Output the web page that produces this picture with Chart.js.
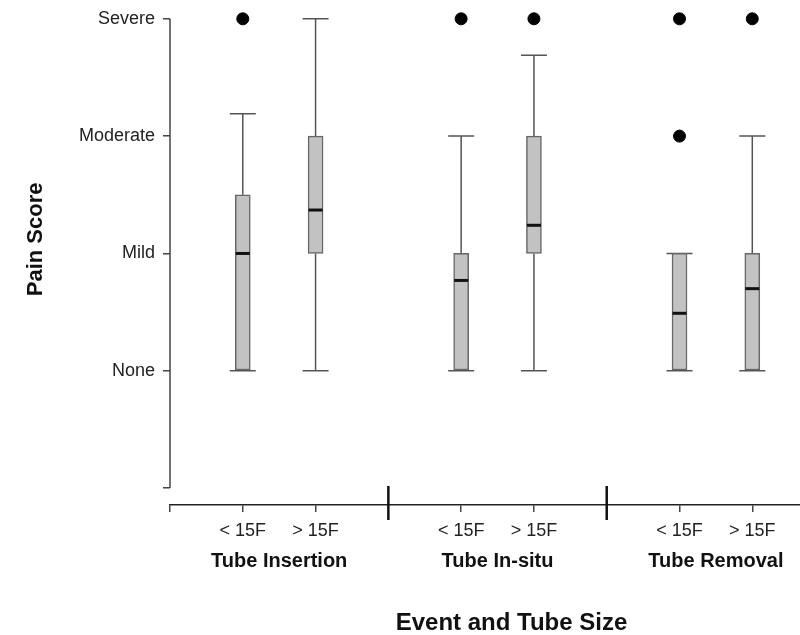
<!DOCTYPE html>
<html lang="en">
<head>
  <meta charset="UTF-8" />
  <title>Pain Score by Event and Tube Size</title>
  <script src="https://cdn.jsdelivr.net/npm/chart.js"></script>
  <style>
    html, body {
      margin: 0;
      padding: 0;
      background: #fff;
      overflow: hidden;
    }
    .wrap {
      width: 860px;
      height: 635px;
    }
  </style>
</head>
<body>

<div class="wrap">
  <canvas id="painChart"></canvas>
</div>

<script>
  // positions on the x axis (groups separated at 3 and 6)
  const positions = [1, 2, 4, 5, 7, 8];
  const categories = ['< 15F', '> 15F', '< 15F', '> 15F', '< 15F', '> 15F'];
  const groups = ['Tube Insertion', 'Tube In-situ', 'Tube Removal'];
  const groupCenters = [1.5, 4.5, 7.5];
  const groupBreaks = [3, 6];

  // box plot stats (0 = None, 1 = Mild, 2 = Moderate, 3 = Severe)
  const whiskerLow  = [0, 0, 0, 0, 0, 0];
  const q1          = [0, 1, 0, 1, 0, 0];
  const median      = [1, 1.37, 0.77, 1.24, 0.49, 0.70];
  const q3          = [1.5, 2, 1, 2, 1, 1];
  const whiskerHigh = [2.19, 3, 2, 2.69, 1, 2];

  const outlierX = [1, 4, 5, 7, 7, 8];
  const outlierY = [3, 3, 3, 3, 2, 3];

  const yTickValues = [-1, 0, 1, 2, 3];
  const yTickLabels = ['', 'None', 'Mild', 'Moderate', 'Severe'];

  const yTitle = 'Pain Score';
  const xTitle = 'Event and Tube Size';

  // whiskers, caps, medians, separators and the y axis line
  const boxExtras = {
    id: 'boxExtras',
    beforeDatasetsDraw(chart) {
      const ctx = chart.ctx;
      const xs = chart.scales.x, ys = chart.scales.y;
      ctx.save();
      ctx.strokeStyle = '#555';
      ctx.lineWidth = 1.5;
      positions.forEach((p, i) => {
        const px = xs.getPixelForValue(p);
        ctx.beginPath();
        ctx.moveTo(px, ys.getPixelForValue(whiskerLow[i]));
        ctx.lineTo(px, ys.getPixelForValue(q1[i]));
        ctx.moveTo(px, ys.getPixelForValue(q3[i]));
        ctx.lineTo(px, ys.getPixelForValue(whiskerHigh[i]));
        [whiskerLow[i], whiskerHigh[i]].forEach(v => {
          const py = ys.getPixelForValue(v);
          ctx.moveTo(px - 13, py);
          ctx.lineTo(px + 13, py);
        });
        ctx.stroke();
      });
      ctx.restore();
    },
    afterDatasetsDraw(chart) {
      const ctx = chart.ctx;
      const xs = chart.scales.x, ys = chart.scales.y;
      ctx.save();
      ctx.strokeStyle = '#111';
      ctx.lineWidth = 3;
      positions.forEach((p, i) => {
        const px = xs.getPixelForValue(p);
        const py = ys.getPixelForValue(median[i]);
        ctx.beginPath();
        ctx.moveTo(px - 7, py);
        ctx.lineTo(px + 7, py);
        ctx.stroke();
      });
      // y axis line from Severe down to the lowest tick
      ctx.strokeStyle = '#444';
      ctx.lineWidth = 1.5;
      ctx.beginPath();
      ctx.moveTo(xs.left, ys.getPixelForValue(3));
      ctx.lineTo(xs.left, ys.getPixelForValue(-1));
      ctx.stroke();
      // group separators
      ctx.strokeStyle = '#111';
      ctx.lineWidth = 2.5;
      groupBreaks.forEach(b => {
        const px = xs.getPixelForValue(b);
        ctx.beginPath();
        ctx.moveTo(px, xs.top - 19);
        ctx.lineTo(px, xs.top + 15);
        ctx.stroke();
      });
      // y title
      ctx.fillStyle = '#111';
      ctx.font = 'bold 22px "Liberation Sans", Arial, sans-serif';
      ctx.textAlign = 'center';
      ctx.textBaseline = 'middle';
      ctx.translate(36, ys.getPixelForValue(1.12));
      ctx.rotate(-Math.PI / 2);
      ctx.fillText(yTitle, 0, 0);
      ctx.restore();
    }
  };

  const xMax = (855 - 170) / 73;

  new Chart(document.getElementById('painChart').getContext('2d'), {
    data: {
      datasets: [
        {
          type: 'bar',
          data: positions.map((p, i) => ({ x: p, y: [q1[i], q3[i]] })),
          backgroundColor: '#c2c2c2',
          borderColor: '#666',
          borderWidth: 1.5,
          borderSkipped: false,
          barThickness: 15
        },
        {
          type: 'scatter',
          data: outlierX.map((x, i) => ({ x: x, y: outlierY[i] })),
          backgroundColor: '#000',
          borderColor: '#000',
          pointRadius: 6,
          clip: false
        }
      ]
    },
    options: {
      responsive: true,
      maintainAspectRatio: false,
      animation: false,
      layout: { padding: { top: 14, right: 0, left: 0, bottom: 0 } },
      plugins: {
        legend: { display: false },
        tooltip: { enabled: false }
      },
      scales: {
        x: {
          type: 'linear',
          position: 'bottom',
          min: 0,
          max: xMax,
          offset: false,
          afterBuildTicks: s => { s.ticks = [0, ...positions].map(v => ({ value: v })); },
          afterFit: s => { s.height = 34; },
          ticks: {
            autoSkip: false,
            maxRotation: 0,
            padding: 8,
            color: '#222',
            font: { family: '"Liberation Sans", Arial, sans-serif', size: 18 },
            callback: v => { const i = positions.indexOf(v); return i < 0 ? '' : categories[i]; }
          },
          grid: { offset: false, drawOnChartArea: false, drawTicks: true, tickLength: 7, color: '#444', lineWidth: 1.5 },
          border: { display: true, color: '#222', width: 1.5 }
        },
        x2: {
          type: 'linear',
          position: 'bottom',
          min: 0,
          max: xMax,
          afterBuildTicks: s => { s.ticks = groupCenters.map(v => ({ value: v })); },
          afterFit: s => { s.height = 96; },
          ticks: {
            autoSkip: false,
            maxRotation: 0,
            padding: 2,
            color: '#111',
            font: { family: '"Liberation Sans", Arial, sans-serif', size: 20, weight: 'bold' },
            callback: v => groups[groupCenters.indexOf(v)]
          },
          grid: { display: false },
          border: { display: false },
          title: {
            display: true,
            text: xTitle,
            color: '#111',
            padding: 0,
            font: { family: '"Liberation Sans", Arial, sans-serif', size: 24, weight: 'bold', lineHeight: 1 }
          }
        },
        y: {
          type: 'linear',
          min: -1 - 17 / 118,
          max: 3,
          afterBuildTicks: s => { s.ticks = yTickValues.map(v => ({ value: v })); },
          afterFit: s => { s.width = 170; },
          ticks: {
            padding: 8,
            color: '#222',
            font: { family: '"Liberation Sans", Arial, sans-serif', size: 18 },
            callback: v => yTickLabels[yTickValues.indexOf(v)]
          },
          grid: { drawOnChartArea: false, drawTicks: true, tickLength: 7, color: '#444', lineWidth: 1.5 },
          border: { display: false }
        }
      }
    },
    plugins: [boxExtras]
  });
</script>

</body>
</html>
